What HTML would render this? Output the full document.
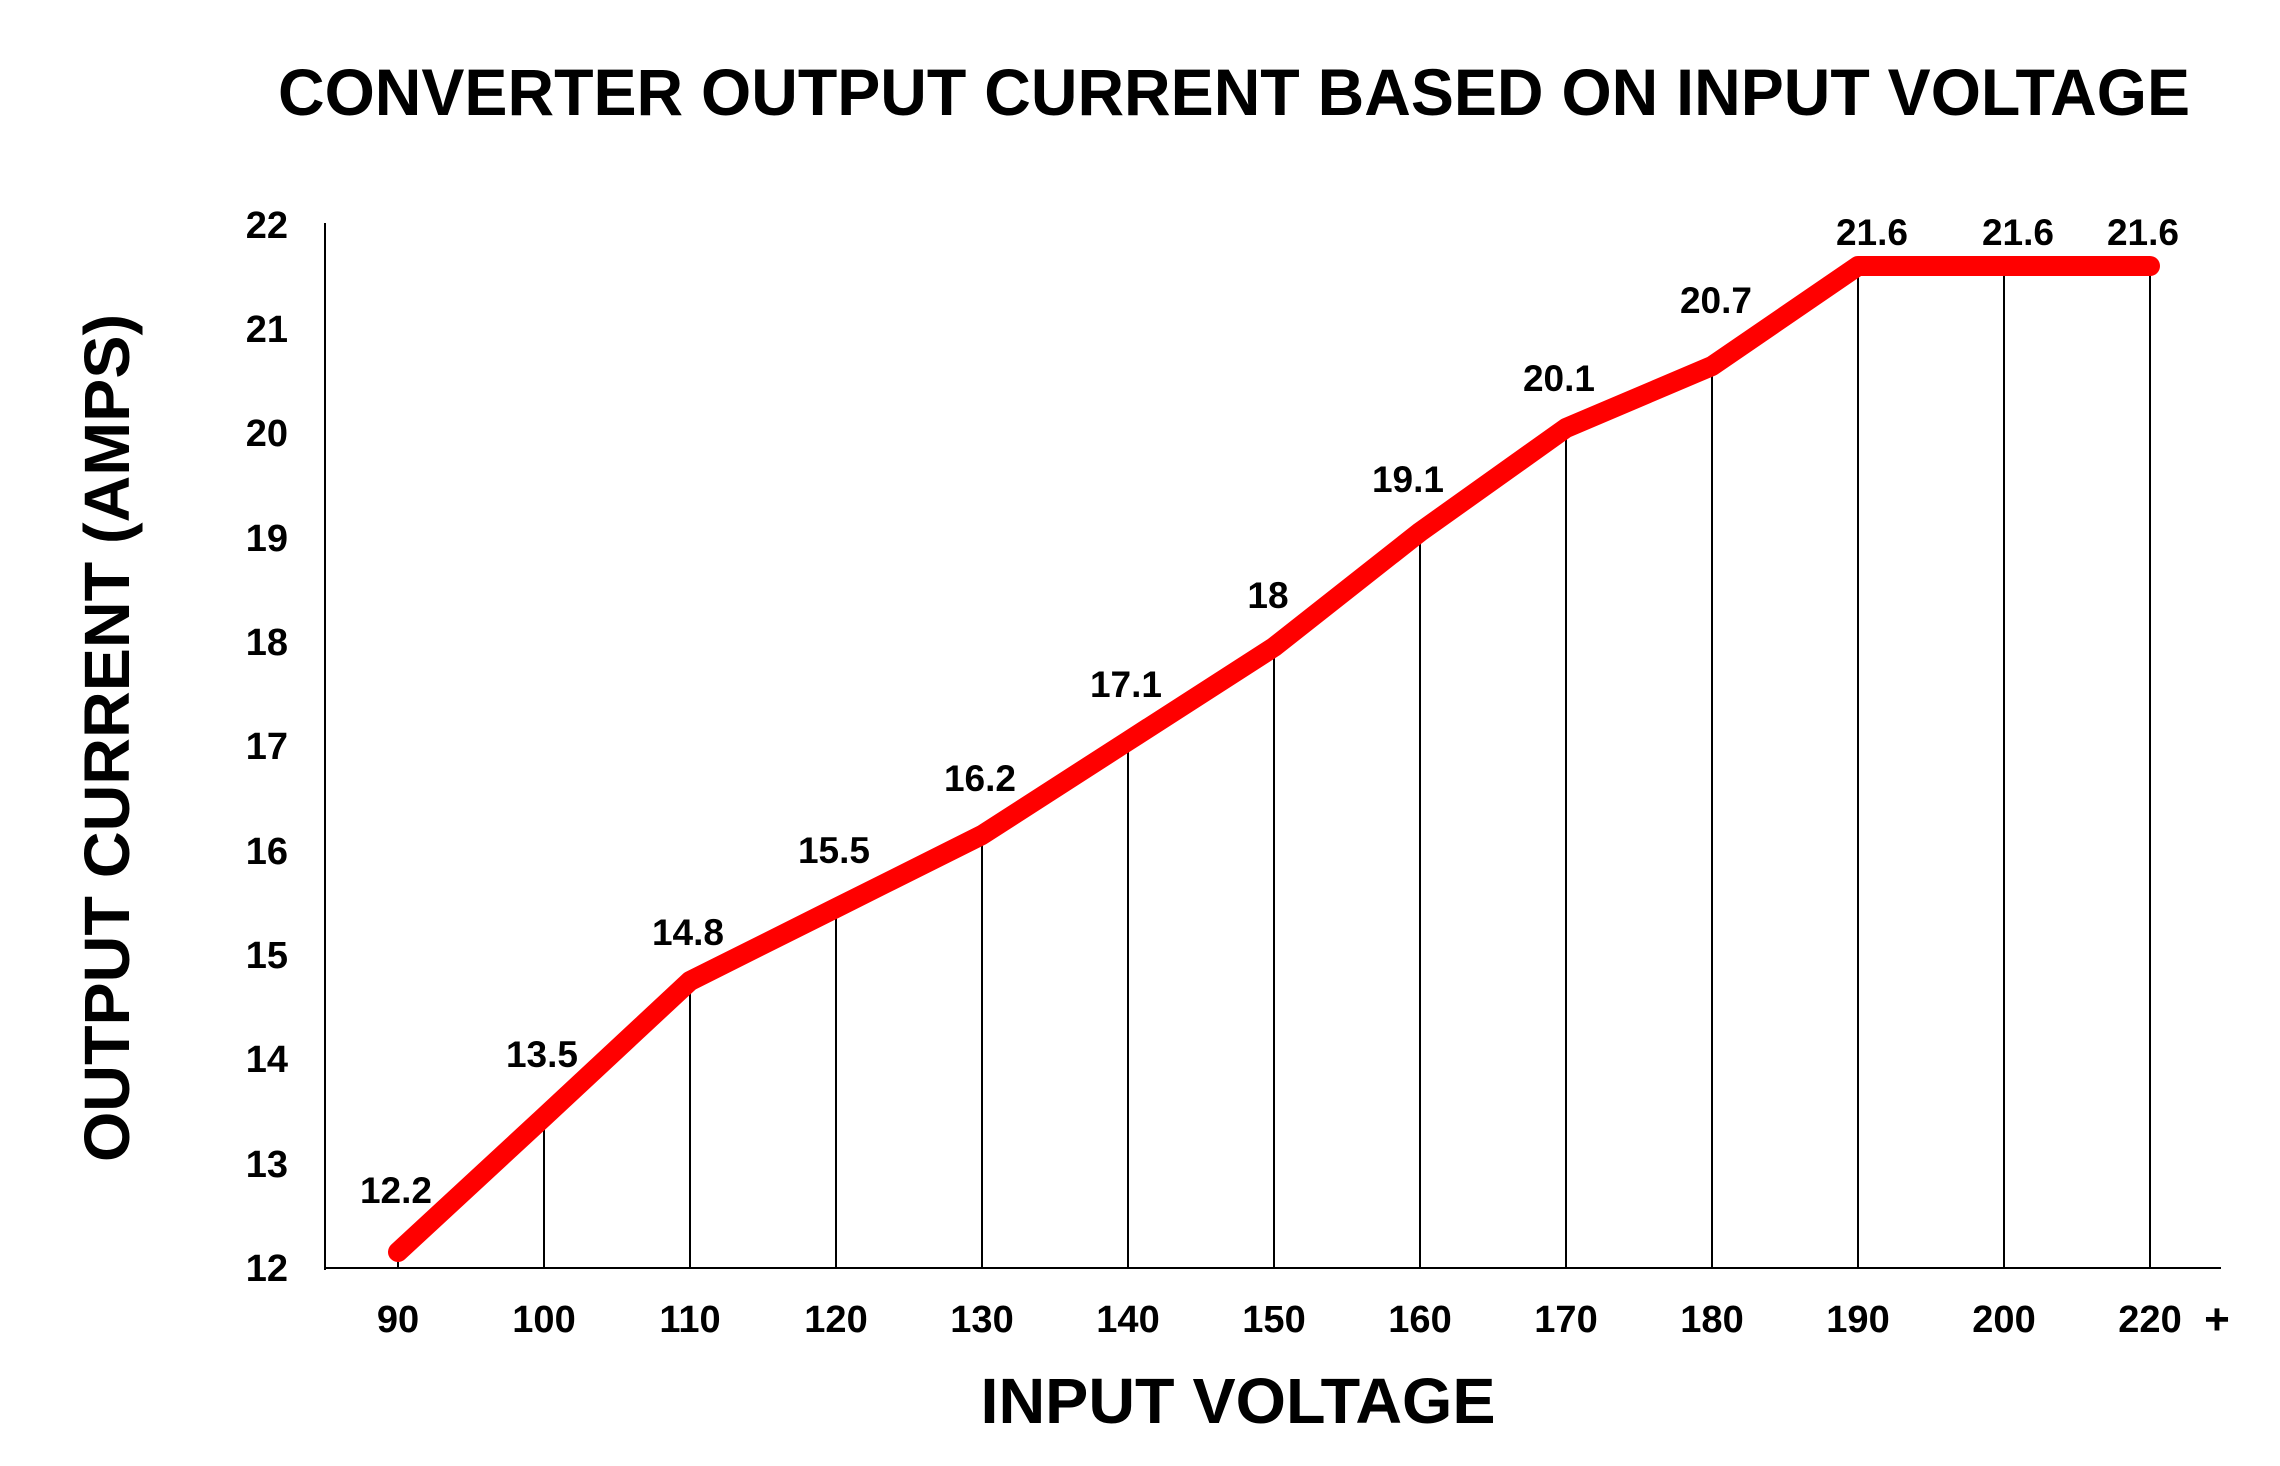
<!DOCTYPE html>
<html><head><meta charset="utf-8"><style>html,body{margin:0;padding:0;background:#fff}svg{display:block}</style></head>
<body>
<svg width="2280" height="1466" viewBox="0 0 2280 1466" xmlns="http://www.w3.org/2000/svg" font-family="Liberation Sans, Arial, sans-serif" font-weight="bold" fill="#000">
<text x="278" y="115" font-size="66" textLength="1912" lengthAdjust="spacingAndGlyphs">CONVERTER OUTPUT CURRENT BASED ON INPUT VOLTAGE</text>
<text transform="translate(129,738) rotate(-90)" text-anchor="middle" font-size="64" textLength="848" lengthAdjust="spacingAndGlyphs">OUTPUT CURRENT (AMPS)</text>
<text x="1238" y="1423" text-anchor="middle" font-size="64" textLength="515" lengthAdjust="spacingAndGlyphs">INPUT VOLTAGE</text>
<line x1="325" y1="223" x2="325" y2="1270" stroke="#000" stroke-width="2"/>
<line x1="325" y1="1268" x2="2221" y2="1268" stroke="#000" stroke-width="2"/>
<g font-size="38" text-anchor="end">
<text x="288" y="238">22</text><text x="288" y="342">21</text><text x="288" y="446">20</text><text x="288" y="551">19</text><text x="288" y="655">18</text><text x="288" y="759">17</text><text x="288" y="864">16</text><text x="288" y="968">15</text><text x="288" y="1072">14</text><text x="288" y="1177">13</text><text x="288" y="1281">12</text>
</g>
<g stroke="#000" stroke-width="2">
<line x1="398" y1="1248" x2="398" y2="1268"/>
<line x1="544" y1="1112" x2="544" y2="1268"/>
<line x1="690" y1="977" x2="690" y2="1268"/>
<line x1="836" y1="904" x2="836" y2="1268"/>
<line x1="982" y1="831" x2="982" y2="1268"/>
<line x1="1128" y1="737" x2="1128" y2="1268"/>
<line x1="1274" y1="643" x2="1274" y2="1268"/>
<line x1="1420" y1="529" x2="1420" y2="1268"/>
<line x1="1566" y1="424" x2="1566" y2="1268"/>
<line x1="1712" y1="362" x2="1712" y2="1268"/>
<line x1="1858" y1="266" x2="1858" y2="1268"/>
<line x1="2004" y1="266" x2="2004" y2="1268"/>
<line x1="2150" y1="266" x2="2150" y2="1268"/>
</g>
<polyline fill="none" stroke="#ff0000" stroke-width="20" stroke-linecap="round" stroke-linejoin="round"
points="398,1252 544,1117 690,981 836,908 982,835 1128,741 1274,647 1420,532 1566,428 1712,366 1858,266 2004,266 2150,266"/>
<g font-size="37" text-anchor="middle">
<text x="396" y="1203">12.2</text>
<text x="542" y="1067">13.5</text>
<text x="688" y="945">14.8</text>
<text x="834" y="863">15.5</text>
<text x="980" y="791">16.2</text>
<text x="1126" y="697">17.1</text>
<text x="1268" y="608">18</text>
<text x="1408" y="492">19.1</text>
<text x="1559" y="391">20.1</text>
<text x="1716" y="313">20.7</text>
<text x="1872" y="245">21.6</text>
<text x="2018" y="245">21.6</text>
<text x="2143" y="245">21.6</text>
</g>
<g font-size="38" text-anchor="middle">
<text x="398" y="1332">90</text><text x="544" y="1332">100</text><text x="690" y="1332">110</text><text x="836" y="1332">120</text><text x="982" y="1332">130</text><text x="1128" y="1332">140</text><text x="1274" y="1332">150</text><text x="1420" y="1332">160</text><text x="1566" y="1332">170</text><text x="1712" y="1332">180</text><text x="1858" y="1332">190</text><text x="2004" y="1332">200</text><text x="2150" y="1332">220</text>
<text x="2217" y="1334" font-size="44">+</text>
</g>
</svg>
</body></html>
